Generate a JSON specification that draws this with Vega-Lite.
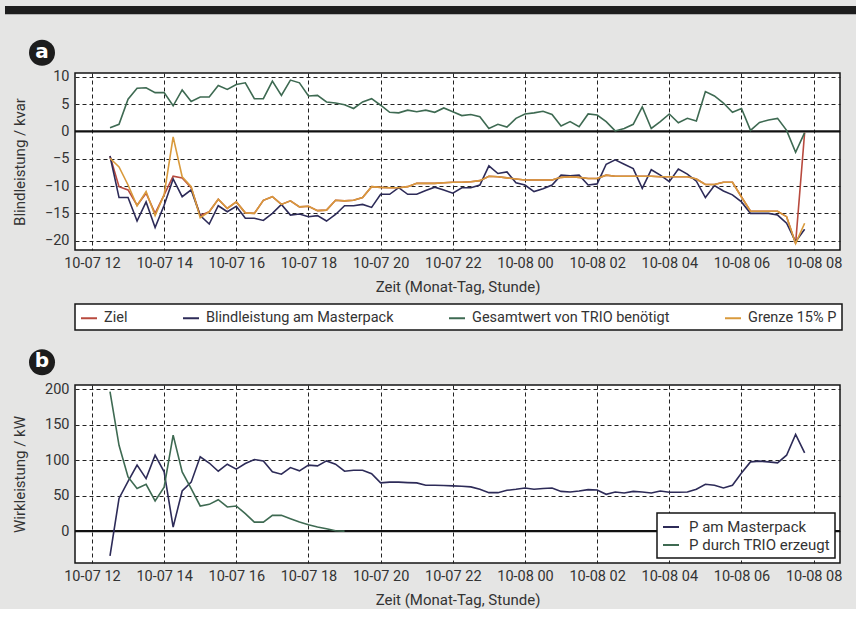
{
  "$schema": "https://vega.github.io/schema/vega-lite/v6.json",
  "background": "#e5e5e4",
  "padding": {"left": 4, "top": 5, "right": 0, "bottom": 0},
  "spacing": 16,
  "config": {
    "font": "Roboto, sans-serif",
    "view": {"fill": "white", "stroke": "#151515", "strokeWidth": 1.5},
    "axis": {
      "labelFontSize": 14.5, "labelColor": "#333", "titleFontSize": 15, "titleFontWeight": "normal",
      "titleColor": "#333", "ticks": false, "domain": false, "grid": true,
      "gridDash": [4, 3], "gridColor": "#222", "gridWidth": 1, "gridOpacity": 1
    },
    "legend": {"labelFontSize": 14.5, "labelColor": "#333", "labelLimit": 400, "symbolType": "stroke", "symbolStrokeWidth": 2, "strokeColor": "#151515", "fillColor": "white", "strokeWidth": 1.5, "title": null}
  },
  "resolve": {"scale": {"color": "independent"}, "legend": {"color": "independent"}},
  "datasets": {
    "d": [
      {"t": "2023-10-07T12:30:00", "ziel": -4.5, "blind": -4.5, "ges": 0.7, "grenze": -4.9, "pm": -35, "ptrio": 196.7},
      {"t": "2023-10-07T12:45:00", "ziel": -10.1, "blind": -12.1, "ges": 1.3, "grenze": -6.5, "pm": 46, "ptrio": 121},
      {"t": "2023-10-07T13:00:00", "ziel": -10.7, "blind": -12.1, "ges": 5.9, "grenze": -9.8, "pm": 70, "ptrio": 76.4},
      {"t": "2023-10-07T13:15:00", "ziel": -13.5, "blind": -16.4, "ges": 7.9, "grenze": -13.6, "pm": 93, "ptrio": 60},
      {"t": "2023-10-07T13:30:00", "ziel": -11.3, "blind": -12.9, "ges": 8.0, "grenze": -11.0, "pm": 74, "ptrio": 66},
      {"t": "2023-10-07T13:45:00", "ziel": -15.0, "blind": -17.6, "ges": 7.1, "grenze": -15.4, "pm": 107, "ptrio": 42.5},
      {"t": "2023-10-07T14:00:00", "ziel": -11.6, "blind": -13.5, "ges": 7.1, "grenze": -11.6, "pm": 83.5, "ptrio": 62},
      {"t": "2023-10-07T14:15:00", "ziel": -8.2, "blind": -8.7, "ges": 4.7, "grenze": -1.0, "pm": 5.7, "ptrio": 135.4},
      {"t": "2023-10-07T14:30:00", "ziel": -8.5, "blind": -11.95, "ges": 7.6, "grenze": -8.3, "pm": 56.6, "ptrio": 83.5},
      {"t": "2023-10-07T14:45:00", "ziel": -10.3, "blind": -10.7, "ges": 5.5, "grenze": -10.1, "pm": 69, "ptrio": 60},
      {"t": "2023-10-07T15:00:00", "ziel": -15.4, "blind": -15.4, "ges": 6.3, "grenze": -15.8, "pm": 104.7, "ptrio": 35.4},
      {"t": "2023-10-07T15:15:00", "ziel": -14.7, "blind": -16.95, "ges": 6.3, "grenze": -14.7, "pm": 96, "ptrio": 37.7},
      {"t": "2023-10-07T15:30:00", "ziel": -12.4, "blind": -13.6, "ges": 8.4, "grenze": -12.4, "pm": 84.4, "ptrio": 44.3},
      {"t": "2023-10-07T15:45:00", "ziel": -14.1, "blind": -14.7, "ges": 7.7, "grenze": -14.1, "pm": 94.3, "ptrio": 34},
      {"t": "2023-10-07T16:00:00", "ziel": -12.9, "blind": -13.7, "ges": 8.6, "grenze": -12.9, "pm": 87.3, "ptrio": 35.4},
      {"t": "2023-10-07T16:15:00", "ziel": -14.9, "blind": -15.9, "ges": 8.9, "grenze": -14.9, "pm": 95.3, "ptrio": 24.5},
      {"t": "2023-10-07T16:30:00", "ziel": -15.0, "blind": -15.9, "ges": 6.0, "grenze": -15.0, "pm": 101, "ptrio": 12.7},
      {"t": "2023-10-07T16:45:00", "ziel": -12.6, "blind": -16.3, "ges": 6.0, "grenze": -12.6, "pm": 99, "ptrio": 12.7},
      {"t": "2023-10-07T17:00:00", "ziel": -11.95, "blind": -15.0, "ges": 9.2, "grenze": -11.95, "pm": 83.5, "ptrio": 22.2},
      {"t": "2023-10-07T17:15:00", "ziel": -13.35, "blind": -13.35, "ges": 6.6, "grenze": -13.35, "pm": 80.2, "ptrio": 22.2},
      {"t": "2023-10-07T17:30:00", "ziel": -12.7, "blind": -15.3, "ges": 9.4, "grenze": -12.7, "pm": 89.6, "ptrio": 17.5},
      {"t": "2023-10-07T17:45:00", "ziel": -13.8, "blind": -15.1, "ges": 8.9, "grenze": -13.8, "pm": 85, "ptrio": 12.7},
      {"t": "2023-10-07T18:00:00", "ziel": -13.7, "blind": -15.6, "ges": 6.5, "grenze": -13.7, "pm": 93, "ptrio": 9},
      {"t": "2023-10-07T18:15:00", "ziel": -14.5, "blind": -15.4, "ges": 6.6, "grenze": -14.5, "pm": 92, "ptrio": 5.7},
      {"t": "2023-10-07T18:30:00", "ziel": -14.4, "blind": -16.4, "ges": 5.4, "grenze": -14.4, "pm": 99, "ptrio": 3.3},
      {"t": "2023-10-07T18:45:00", "ziel": -12.6, "blind": -15.2, "ges": 5.2, "grenze": -12.6, "pm": 94.3, "ptrio": 0.5},
      {"t": "2023-10-07T19:00:00", "ziel": -12.7, "blind": -13.6, "ges": 4.9, "grenze": -12.7, "pm": 84.4, "ptrio": 0},
      {"t": "2023-10-07T19:15:00", "ziel": -12.6, "blind": -13.6, "ges": 4.2, "grenze": -12.6, "pm": 85.8, "ptrio": null},
      {"t": "2023-10-07T19:30:00", "ziel": -12.1, "blind": -13.35, "ges": 5.4, "grenze": -12.1, "pm": 85.8, "ptrio": null},
      {"t": "2023-10-07T19:45:00", "ziel": -10.1, "blind": -13.9, "ges": 6.0, "grenze": -10.1, "pm": 81, "ptrio": null},
      {"t": "2023-10-07T20:00:00", "ziel": -10.24, "blind": -11.5, "ges": 4.8, "grenze": -10.24, "pm": 68, "ptrio": null},
      {"t": "2023-10-07T20:15:00", "ziel": -10.3, "blind": -11.5, "ges": 3.5, "grenze": -10.3, "pm": 69, "ptrio": null},
      {"t": "2023-10-07T20:30:00", "ziel": -10.3, "blind": -10.3, "ges": 3.4, "grenze": -10.3, "pm": 69, "ptrio": null},
      {"t": "2023-10-07T20:45:00", "ziel": -10.1, "blind": -11.5, "ges": 3.9, "grenze": -10.1, "pm": 68.4, "ptrio": null},
      {"t": "2023-10-07T21:00:00", "ziel": -9.5, "blind": -11.5, "ges": 3.6, "grenze": -9.5, "pm": 68, "ptrio": null},
      {"t": "2023-10-07T21:15:00", "ziel": -9.5, "blind": -10.8, "ges": 3.9, "grenze": -9.5, "pm": 64.6, "ptrio": null},
      {"t": "2023-10-07T21:30:00", "ziel": -9.5, "blind": -10.2, "ges": 3.5, "grenze": -9.5, "pm": 64.6, "ptrio": null},
      {"t": "2023-10-07T21:45:00", "ziel": -9.4, "blind": -10.7, "ges": 4.3, "grenze": -9.4, "pm": 64.2, "ptrio": null},
      {"t": "2023-10-07T22:00:00", "ziel": -9.3, "blind": -11.3, "ges": 3.6, "grenze": -9.3, "pm": 63.7, "ptrio": null},
      {"t": "2023-10-07T22:15:00", "ziel": -9.3, "blind": -10.3, "ges": 2.9, "grenze": -9.3, "pm": 63.2, "ptrio": null},
      {"t": "2023-10-07T22:30:00", "ziel": -9.2, "blind": -10.3, "ges": 3.1, "grenze": -9.2, "pm": 62.3, "ptrio": null},
      {"t": "2023-10-07T22:45:00", "ziel": -9.0, "blind": -9.8, "ges": 2.7, "grenze": -9.0, "pm": 59, "ptrio": null},
      {"t": "2023-10-07T23:00:00", "ziel": -8.2, "blind": -6.3, "ges": 0.55, "grenze": -8.2, "pm": 54.2, "ptrio": null},
      {"t": "2023-10-07T23:15:00", "ziel": -8.3, "blind": -7.7, "ges": 1.3, "grenze": -8.3, "pm": 54.2, "ptrio": null},
      {"t": "2023-10-07T23:30:00", "ziel": -8.5, "blind": -7.4, "ges": 0.8, "grenze": -8.5, "pm": 57.5, "ptrio": null},
      {"t": "2023-10-07T23:45:00", "ziel": -8.7, "blind": -9.4, "ges": 2.4, "grenze": -8.7, "pm": 59, "ptrio": null},
      {"t": "2023-10-08T00:00:00", "ziel": -8.9, "blind": -9.8, "ges": 3.2, "grenze": -8.9, "pm": 60.8, "ptrio": null},
      {"t": "2023-10-08T00:15:00", "ziel": -8.9, "blind": -11.0, "ges": 3.4, "grenze": -8.9, "pm": 59, "ptrio": null},
      {"t": "2023-10-08T00:30:00", "ziel": -8.9, "blind": -10.5, "ges": 3.7, "grenze": -8.9, "pm": 60, "ptrio": null},
      {"t": "2023-10-08T00:45:00", "ziel": -8.9, "blind": -9.8, "ges": 3.1, "grenze": -8.9, "pm": 60.8, "ptrio": null},
      {"t": "2023-10-08T01:00:00", "ziel": -8.4, "blind": -8.0, "ges": 1.0, "grenze": -8.4, "pm": 56, "ptrio": null},
      {"t": "2023-10-08T01:15:00", "ziel": -8.3, "blind": -8.1, "ges": 1.8, "grenze": -8.3, "pm": 55.2, "ptrio": null},
      {"t": "2023-10-08T01:30:00", "ziel": -8.4, "blind": -8.0, "ges": 0.85, "grenze": -8.4, "pm": 56.6, "ptrio": null},
      {"t": "2023-10-08T01:45:00", "ziel": -8.6, "blind": -9.8, "ges": 3.2, "grenze": -8.6, "pm": 58.5, "ptrio": null},
      {"t": "2023-10-08T02:00:00", "ziel": -8.6, "blind": -9.6, "ges": 3.0, "grenze": -8.6, "pm": 58, "ptrio": null},
      {"t": "2023-10-08T02:15:00", "ziel": -8.0, "blind": -6.0, "ges": 1.8, "grenze": -8.0, "pm": 51.9, "ptrio": null},
      {"t": "2023-10-08T02:30:00", "ziel": -8.2, "blind": -5.2, "ges": 0.1, "grenze": -8.2, "pm": 55.2, "ptrio": null},
      {"t": "2023-10-08T02:45:00", "ziel": -8.2, "blind": -6.0, "ges": 0.55, "grenze": -8.2, "pm": 53.8, "ptrio": null},
      {"t": "2023-10-08T03:00:00", "ziel": -8.2, "blind": -6.8, "ges": 1.3, "grenze": -8.2, "pm": 56, "ptrio": null},
      {"t": "2023-10-08T03:15:00", "ziel": -8.2, "blind": -10.4, "ges": 4.5, "grenze": -8.2, "pm": 55.2, "ptrio": null},
      {"t": "2023-10-08T03:30:00", "ziel": -8.2, "blind": -7.0, "ges": 0.55, "grenze": -8.2, "pm": 53.8, "ptrio": null},
      {"t": "2023-10-08T03:45:00", "ziel": -8.3, "blind": -8.0, "ges": 1.8, "grenze": -8.3, "pm": 56.6, "ptrio": null},
      {"t": "2023-10-08T04:00:00", "ziel": -8.3, "blind": -9.2, "ges": 3.2, "grenze": -8.3, "pm": 54.7, "ptrio": null},
      {"t": "2023-10-08T04:15:00", "ziel": -8.3, "blind": -6.9, "ges": 1.6, "grenze": -8.3, "pm": 54.7, "ptrio": null},
      {"t": "2023-10-08T04:30:00", "ziel": -8.3, "blind": -7.8, "ges": 2.4, "grenze": -8.3, "pm": 55.2, "ptrio": null},
      {"t": "2023-10-08T04:45:00", "ziel": -8.7, "blind": -9.1, "ges": 1.9, "grenze": -8.7, "pm": 59, "ptrio": null},
      {"t": "2023-10-08T05:00:00", "ziel": -9.7, "blind": -12.1, "ges": 7.3, "grenze": -9.7, "pm": 66, "ptrio": null},
      {"t": "2023-10-08T05:15:00", "ziel": -9.7, "blind": -9.9, "ges": 6.5, "grenze": -9.7, "pm": 64.6, "ptrio": null},
      {"t": "2023-10-08T05:30:00", "ziel": -9.3, "blind": -10.9, "ges": 5.2, "grenze": -9.3, "pm": 60.8, "ptrio": null},
      {"t": "2023-10-08T05:45:00", "ziel": -9.3, "blind": -11.6, "ges": 3.5, "grenze": -9.3, "pm": 64.6, "ptrio": null},
      {"t": "2023-10-08T06:00:00", "ziel": -12.0, "blind": -12.9, "ges": 4.2, "grenze": -12.0, "pm": 82, "ptrio": null},
      {"t": "2023-10-08T06:15:00", "ziel": -14.6, "blind": -15.0, "ges": 0.2, "grenze": -14.6, "pm": 97.6, "ptrio": null},
      {"t": "2023-10-08T06:30:00", "ziel": -14.6, "blind": -15.0, "ges": 1.65, "grenze": -14.6, "pm": 98.6, "ptrio": null},
      {"t": "2023-10-08T06:45:00", "ziel": -14.6, "blind": -15.0, "ges": 2.1, "grenze": -14.6, "pm": 97.6, "ptrio": null},
      {"t": "2023-10-08T07:00:00", "ziel": -14.6, "blind": -15.3, "ges": 2.4, "grenze": -14.6, "pm": 96.2, "ptrio": null},
      {"t": "2023-10-08T07:15:00", "ziel": -15.6, "blind": -16.8, "ges": 0.2, "grenze": -15.6, "pm": 107, "ptrio": null},
      {"t": "2023-10-08T07:30:00", "ziel": -20.5, "blind": -20.2, "ges": -3.8, "grenze": -20.5, "pm": 136.3, "ptrio": null},
      {"t": "2023-10-08T07:45:00", "ziel": -0.2, "blind": -17.9, "ges": -0.2, "grenze": -16.8, "pm": 110.4, "ptrio": null}
    ]
  },
  "vconcat": [
    {
      "width": 765,
      "height": 177,
      "resolve": {"axis": {"x": "independent", "y": "independent"}},
      "layer": [
        {
          "data": {"values": [{"panel": "a"}]},
          "mark": {"type": "rect", "color": "#1d1d1d", "clip": false},
          "encoding": {
            "x": {"datum": {"year": 2023, "month": 10, "date": 7, "hours": 9, "minutes": 35, "seconds": 24}, "type": "temporal", "axis": null},
            "x2": {"datum": {"year": 2023, "month": 10, "date": 8, "hours": 9, "minutes": 11, "seconds": 13}},
            "y": {"datum": 22.964, "type": "quantitative", "axis": null},
            "y2": {"datum": 21.445}
          }
        },
        {
          "data": {"values": [{"panel": "a"}]},
          "mark": {"type": "point", "shape": "circle", "filled": true, "color": "#1d1d1d", "opacity": 1, "size": 676, "clip": false},
          "encoding": {
            "x": {"datum": {"year": 2023, "month": 10, "date": 7, "hours": 10, "minutes": 36, "seconds": 56}, "type": "temporal", "axis": null},
            "y": {"datum": 14.416, "type": "quantitative", "axis": null}
          }
        },
        {
          "data": {"values": [{"panel": "a"}]},
          "mark": {"type": "text", "color": "white", "fontSize": 20, "fontWeight": "bold", "font": "DejaVu Sans", "baseline": "middle", "align": "center", "dy": -1, "clip": false},
          "encoding": {
            "x": {"datum": {"year": 2023, "month": 10, "date": 7, "hours": 10, "minutes": 36, "seconds": 56}, "type": "temporal", "axis": null},
            "y": {"datum": 14.416, "type": "quantitative", "axis": null},
            "text": {"field": "panel"}
          }
        },
        {
          "data": {"values": [{"panel": "a"}]},
          "mark": {"type": "rule", "color": "#111", "strokeWidth": 2.3},
          "encoding": {"y": {"datum": 0, "type": "quantitative", "axis": null}}
        },
        {
          "data": {"name": "d"},
          "transform": [
            {"fold": ["ziel", "blind", "ges", "grenze"], "as": ["serie", "wert"]},
            {"filter": "isValid(datum.wert)"}
          ],
          "mark": {"type": "line", "strokeWidth": 1.6, "clip": true},
          "encoding": {
            "x": {
              "field": "t", "type": "temporal",
              "scale": {"domain": [{"year": 2023, "month": 10, "date": 7, "hours": 11, "minutes": 31, "seconds": 48}, {"year": 2023, "month": 10, "date": 8, "hours": 8, "minutes": 43, "seconds": 48}], "nice": false},
              "axis": {"orient": "bottom", "grid": true, "gridDash": [4, 3], "gridColor": "#222", "gridWidth": 1, "title": "Zeit (Monat-Tag, Stunde)", "format": "%m-%d %H", "labelPadding": 6, "titlePadding": 10, "labelFlush": false,
                "values": [
                  {"year": 2023, "month": 10, "date": 7, "hours": 12}, {"year": 2023, "month": 10, "date": 7, "hours": 14}, {"year": 2023, "month": 10, "date": 7, "hours": 16},
                  {"year": 2023, "month": 10, "date": 7, "hours": 18}, {"year": 2023, "month": 10, "date": 7, "hours": 20}, {"year": 2023, "month": 10, "date": 7, "hours": 22},
                  {"year": 2023, "month": 10, "date": 8, "hours": 0}, {"year": 2023, "month": 10, "date": 8, "hours": 2}, {"year": 2023, "month": 10, "date": 8, "hours": 4},
                  {"year": 2023, "month": 10, "date": 8, "hours": 6}, {"year": 2023, "month": 10, "date": 8, "hours": 8}
                ]}
            },
            "y": {
              "field": "wert", "type": "quantitative",
              "scale": {"domain": [-21.7, 10.7], "nice": false, "zero": false},
              "axis": {"orient": "left", "grid": true, "gridDash": [4, 3], "gridColor": "#222", "gridWidth": 1, "title": "Blindleistung / kvar", "values": [-20, -15, -10, -5, 0, 5, 10], "labelPadding": 6, "minExtent": 40, "maxExtent": 40, "titlePadding": 8}
            },
            "color": {
              "field": "serie", "type": "nominal",
              "scale": {"domain": ["ziel", "blind", "ges", "grenze"], "range": ["#b84a3e", "#2d2b58", "#3e6a52", "#d99a3c"]},
              "legend": {
                "orient": "bottom", "direction": "horizontal", "columns": 4, "offset": 9,
                "symbolSize": 256, "labelOffset": 6, "columnPadding": 51, "padding": 5,
                "labelExpr": "{'ziel': 'Ziel', 'blind': 'Blindleistung am Masterpack', 'ges': 'Gesamtwert von TRIO benötigt', 'grenze': 'Grenze 15% P'}[datum.label]"
              }
            }
          }
        }
      ]
    },
    {
      "width": 765,
      "height": 178,
      "resolve": {"axis": {"x": "independent", "y": "independent"}},
      "layer": [
        {
          "data": {"values": [{"panel": "b"}]},
          "mark": {"type": "point", "shape": "circle", "filled": true, "color": "#1d1d1d", "opacity": 1, "size": 676, "clip": false},
          "encoding": {
            "x": {"datum": {"year": 2023, "month": 10, "date": 7, "hours": 10, "minutes": 36, "seconds": 56}, "type": "temporal", "axis": null},
            "y": {"datum": 238.0, "type": "quantitative", "axis": null}
          }
        },
        {
          "data": {"values": [{"panel": "b"}]},
          "mark": {"type": "text", "color": "white", "fontSize": 20, "fontWeight": "bold", "font": "DejaVu Sans", "baseline": "middle", "align": "center", "dy": -1, "clip": false},
          "encoding": {
            "x": {"datum": {"year": 2023, "month": 10, "date": 7, "hours": 10, "minutes": 36, "seconds": 56}, "type": "temporal", "axis": null},
            "y": {"datum": 238.0, "type": "quantitative", "axis": null},
            "text": {"field": "panel"}
          }
        },
        {
          "data": {"values": [{"panel": "b"}]},
          "mark": {"type": "rule", "color": "#111", "strokeWidth": 2.3},
          "encoding": {"y": {"datum": 0, "type": "quantitative", "axis": null}}
        },
        {
          "data": {"name": "d"},
          "transform": [
            {"fold": ["pm", "ptrio"], "as": ["serie", "wert"]},
            {"filter": "isValid(datum.wert)"}
          ],
          "mark": {"type": "line", "strokeWidth": 1.6, "clip": true},
          "encoding": {
            "x": {
              "field": "t", "type": "temporal",
              "scale": {"domain": [{"year": 2023, "month": 10, "date": 7, "hours": 11, "minutes": 31, "seconds": 48}, {"year": 2023, "month": 10, "date": 8, "hours": 8, "minutes": 43, "seconds": 48}], "nice": false},
              "axis": {"orient": "bottom", "grid": true, "gridDash": [4, 3], "gridColor": "#222", "gridWidth": 1, "title": "Zeit (Monat-Tag, Stunde)", "format": "%m-%d %H", "labelPadding": 6, "titlePadding": 10, "labelFlush": false,
                "values": [
                  {"year": 2023, "month": 10, "date": 7, "hours": 12}, {"year": 2023, "month": 10, "date": 7, "hours": 14}, {"year": 2023, "month": 10, "date": 7, "hours": 16},
                  {"year": 2023, "month": 10, "date": 7, "hours": 18}, {"year": 2023, "month": 10, "date": 7, "hours": 20}, {"year": 2023, "month": 10, "date": 7, "hours": 22},
                  {"year": 2023, "month": 10, "date": 8, "hours": 0}, {"year": 2023, "month": 10, "date": 8, "hours": 2}, {"year": 2023, "month": 10, "date": 8, "hours": 4},
                  {"year": 2023, "month": 10, "date": 8, "hours": 6}, {"year": 2023, "month": 10, "date": 8, "hours": 8}
                ]}
            },
            "y": {
              "field": "wert", "type": "quantitative",
              "scale": {"domain": [-45, 206], "nice": false, "zero": false},
              "axis": {"orient": "left", "grid": true, "gridDash": [4, 3], "gridColor": "#222", "gridWidth": 1, "title": "Wirkleistung / kW", "values": [0, 50, 100, 150, 200], "labelPadding": 6, "minExtent": 40, "maxExtent": 40, "titlePadding": 8}
            },
            "color": {
              "field": "serie", "type": "nominal",
              "scale": {"domain": ["pm", "ptrio"], "range": ["#2d2b58", "#3e6a52"]},
              "legend": {
                "orient": "bottom-right", "direction": "vertical", "offset": 5,
                "symbolSize": 256, "labelOffset": 9, "padding": 5, "rowPadding": 1, "labelFontSize": 15,
                "labelExpr": "{'pm': 'P am Masterpack', 'ptrio': 'P durch TRIO erzeugt'}[datum.label]"
              }
            }
          }
        }
      ]
    }
  ]
}
